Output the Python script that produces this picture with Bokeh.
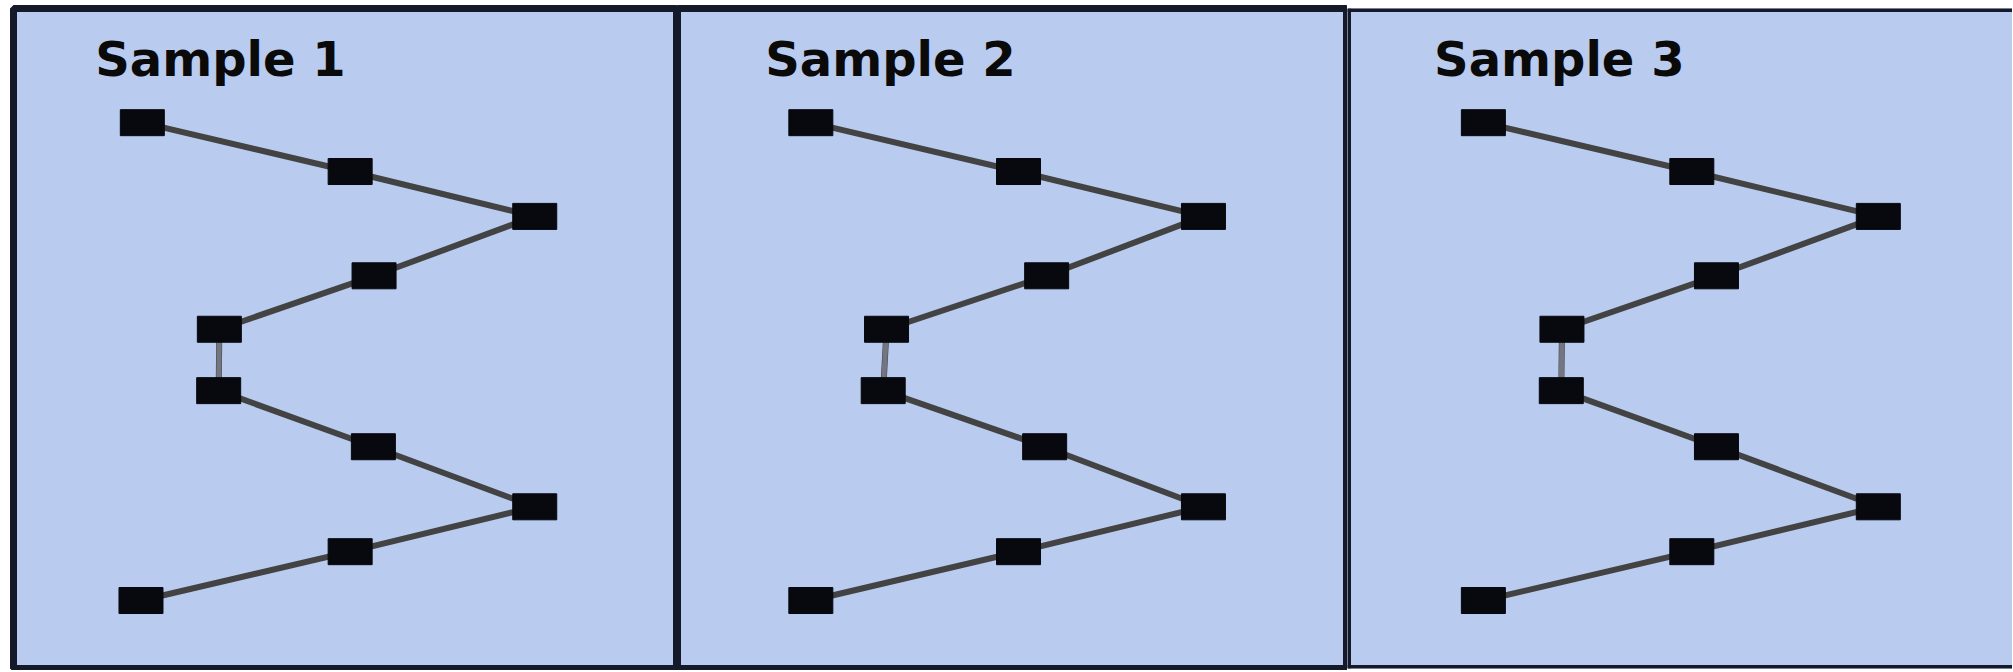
from bokeh.plotting import figure
from bokeh.layouts import row
from bokeh.models import Range1d, Label, Span, ColumnDataSource
from bokeh.embed import file_html
from bokeh.resources import INLINE

# ---- data ----
titles = ["Sample 1", "Sample 2", "Sample 3"]
levels = [82.7, 75.3, 68.5, 59.5, 51.4, 42.1, 33.6, 24.5, 17.7, 10.3]
sample1_x = [19.4, 50.7, 78.5, 54.3, 31.0, 30.9, 54.2, 78.5, 50.7, 19.2]
sample2_x = [19.9, 50.9, 78.5, 55.1, 31.2, 30.7, 54.8, 78.5, 50.9, 19.9]
sample3_x = [20.4, 51.7, 79.7, 55.4, 32.2, 32.1, 55.4, 79.7, 51.7, 20.4]
samples_x = [sample1_x, sample2_x, sample3_x]

# ---- layout / style ----
BG = "#b9ccf0"
BORDER = "#141a2a"
LINE = "#434343"
LINK = "#737680"
MARK = "#08080f"

widths = [677, 670, 665]
left_pad = [13, 0, 0]
x_ends = [100, 100, 665 / 666 * 100]
title_x = [12.3, 13.1, 13.0]
H = 670

figs = []
for i in range(3):
    p = figure(width=widths[i], height=H, output_backend="svg", toolbar_location=None,
               x_range=Range1d(0, x_ends[i]), y_range=Range1d(0, 100),
               min_border_left=left_pad[i], min_border_right=0,
               min_border_top=8, min_border_bottom=2)
    p.axis.visible = False
    p.grid.visible = False
    p.background_fill_color = BG
    p.border_fill_color = "white"
    if i < 2:
        p.outline_line_color = BORDER
        p.outline_line_width = 7
    else:
        p.outline_line_color = None
        p.add_layout(Span(location=0, dimension="height", line_color=BORDER, line_width=7))
        p.add_layout(Span(location=100, dimension="width", line_color=BORDER, line_width=7))
        p.add_layout(Span(location=0, dimension="width", line_color=BORDER, line_width=7))

    xs = samples_x[i]
    src = ColumnDataSource(dict(x=xs, y=levels))
    p.line("x", "y", source=src, line_color=LINE, line_width=6)
    # the short vertical link in the middle is drawn lighter
    p.segment(x0=[xs[4]], y0=[levels[4]], x1=[xs[5]], y1=[levels[5]],
              line_color=LINK, line_width=5)
    p.rect("x", "y", source=src, width=44, height=26, width_units="screen",
           height_units="screen", fill_color=MARK, line_color=MARK)

    p.add_layout(Label(x=title_x[i], y=92.3, text=titles[i], text_font="DejaVu Sans",
                       text_font_style="bold", text_font_size="48px", text_color="#0a0a0a",
                       text_baseline="alphabetic", text_align="left"))
    figs.append(p)

layout = row(*figs, spacing=0)
open("out.html", "w").write(file_html(layout, INLINE))
